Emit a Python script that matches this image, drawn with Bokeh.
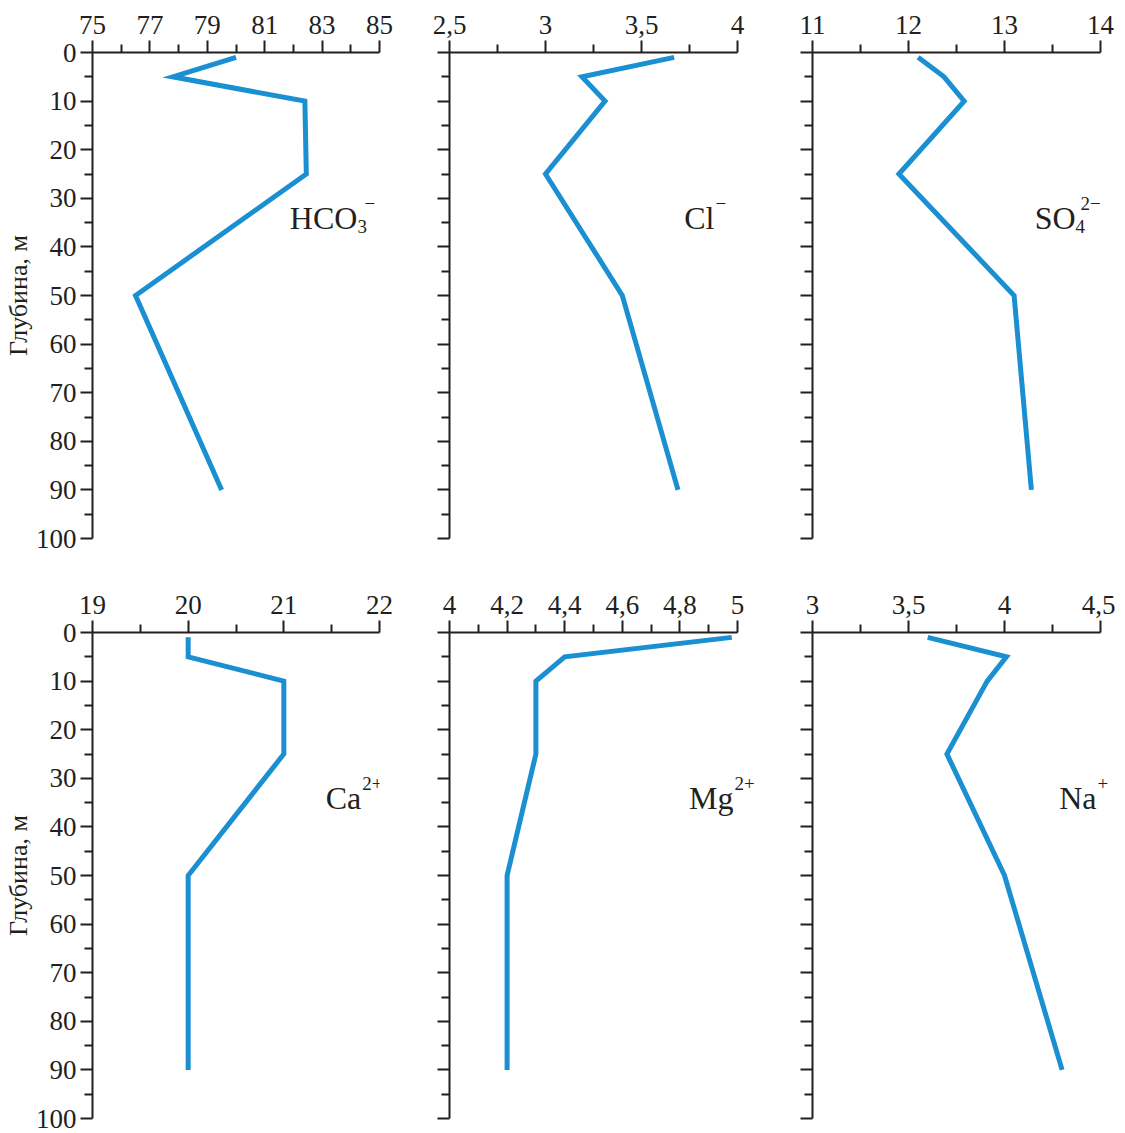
from bokeh.plotting import figure
from bokeh.models import Range1d, FixedTicker, CustomJSTickFormatter, Label
from bokeh.layouts import column, row
from bokeh.embed import file_html
from bokeh.resources import INLINE

# ---- data ----
depths = [1, 5, 10, 25, 50, 90]
hco3 = [80.0, 77.8, 82.4, 82.45, 76.5, 79.5]
cl = [3.67, 3.19, 3.31, 3.0, 3.4, 3.69]
so4 = [12.1, 12.37, 12.58, 11.9, 13.1, 13.28]
ca = [20.0, 20.0, 21.0, 21.0, 20.0, 20.0]
mg = [4.98, 4.4, 4.3, 4.3, 4.2, 4.2]
na = [3.6, 4.01, 3.91, 3.7, 4.0, 4.3]

y_major = [0, 10, 20, 30, 40, 50, 60, 70, 80, 90, 100]
y_minor = [5, 15, 25, 35, 45, 55, 65, 75, 85, 95]
y_title = "Глубина, м"

hco3_major = [75, 77, 79, 81, 83, 85]
hco3_minor = [76, 78, 80, 82, 84]
cl_major = [2.5, 3, 3.5, 4]
cl_minor = [2.75, 3.25, 3.75]
so4_major = [11, 12, 13, 14]
so4_minor = [11.5, 12.5, 13.5]
ca_major = [19, 20, 21, 22]
ca_minor = [19.5, 20.5, 21.5]
mg_major = [4, 4.2, 4.4, 4.6, 4.8, 5]
mg_minor = [4.1, 4.3, 4.5, 4.7, 4.9]
na_major = [3, 3.5, 4, 4.5]
na_minor = [3.25, 3.75, 4.25]

# ion labels: (main, subscript, superscript, anchor value, anchor depth)
ion_labels = [
    ("HCO", "3", "−", 84.23, 34),
    ("Cl", "", "−", 3.88, 34),
    ("SO", "4", "2−", 13.74, 34),
    ("Ca", "", "2+", 21.81, 34),
    ("Mg", "", "2+", 4.986, 34),
    ("Na", "", "+", 4.479, 34),
]

FONT = "Liberation Serif"
INK = "#231f20"
BLUE = "#1a8fd1"


def make_panel(xvals, major, minor, label, first_col, top_row, w, bl, br):
    h = 588 if top_row else 544
    p = figure(width=w, height=h, x_axis_location="above",
               output_backend="svg", toolbar_location=None,
               x_range=Range1d(major[0], major[-1]), y_range=Range1d(100, 0),
               min_border_left=bl, min_border_right=br,
               min_border_top=52 if top_row else 44,
               min_border_bottom=50 if top_row else 14)
    p.outline_line_color = None
    p.grid.visible = False
    p.background_fill_color = "white"
    p.border_fill_color = "white"

    xa = p.xaxis[0]
    xa.ticker = FixedTicker(ticks=major, minor_ticks=minor)
    xa.formatter = CustomJSTickFormatter(code="return String(tick).replace('.', ',')")
    ya = p.yaxis[0]
    ya.ticker = FixedTicker(ticks=y_major, minor_ticks=y_minor)
    if first_col:
        ya.axis_label = y_title
        ya.axis_label_text_font = FONT
        ya.axis_label_text_font_size = "26px"
        ya.axis_label_text_font_style = "normal"
        ya.axis_label_text_color = INK
        ya.axis_label_standoff = 0
    else:
        ya.formatter = CustomJSTickFormatter(code="return ''")
    for ax in (xa, ya):
        ax.axis_line_color = INK
        ax.axis_line_width = 2
        ax.major_tick_line_color = INK
        ax.major_tick_line_width = 2
        ax.minor_tick_line_color = INK
        ax.minor_tick_line_width = 2
        ax.major_tick_in = 0
        ax.major_tick_out = 12
        ax.minor_tick_in = 0
        ax.minor_tick_out = 8
        ax.major_label_text_font = FONT
        ax.major_label_text_font_size = "27px"
        ax.major_label_text_color = INK
    xa.major_label_standoff = 7
    ya.major_label_standoff = 4

    p.line(x=xvals, y=depths, line_width=5, line_color=BLUE, line_join="miter")

    main, sub, sup, ax_, ay_ = label
    p.add_layout(Label(x=ax_, y=ay_, text=main, text_align="right",
                       text_baseline="alphabetic", text_font=FONT,
                       text_font_size="32px", text_color=INK, level="overlay"))
    if sub:
        p.add_layout(Label(x=ax_, y=ay_, text=sub, text_align="left",
                           text_baseline="alphabetic", text_font=FONT,
                           text_font_size="19px", text_color=INK,
                           x_offset=0, y_offset=-9, level="overlay"))
    if sup:
        xo = 7 if sub == "3" else (5 if sub else 1)
        sup_label = Label(x=ax_, y=ay_, text=sup, text_align="left",
                          text_baseline="alphabetic", text_font=FONT,
                          text_font_size="19px", text_color=INK,
                          x_offset=xo, y_offset=14, level="overlay")
        # superscripts that run past the frame edge go in the side panel (unclipped)
        near_edge = (major[-1] - ax_) / (major[-1] - major[0]) < 0.04
        if near_edge:
            p.add_layout(sup_label, "right")
        else:
            p.add_layout(sup_label)
    return p


p1 = make_panel(hco3, hco3_major, hco3_minor, ion_labels[0], True, True, 409, 92, 30)
p2 = make_panel(cl, cl_major, cl_minor, ion_labels[1], False, True, 363, 40, 35)
p3 = make_panel(so4, so4_major, so4_minor, ion_labels[2], False, True, 343, 40, 15)
p4 = make_panel(ca, ca_major, ca_minor, ion_labels[3], True, False, 409, 92, 30)
p5 = make_panel(mg, mg_major, mg_minor, ion_labels[4], False, False, 363, 40, 35)
p6 = make_panel(na, na_major, na_minor, ion_labels[5], False, False, 343, 40, 15)

layout = column(row(p1, p2, p3), row(p4, p5, p6))
open("out.html", "w").write(file_html(layout, INLINE))
